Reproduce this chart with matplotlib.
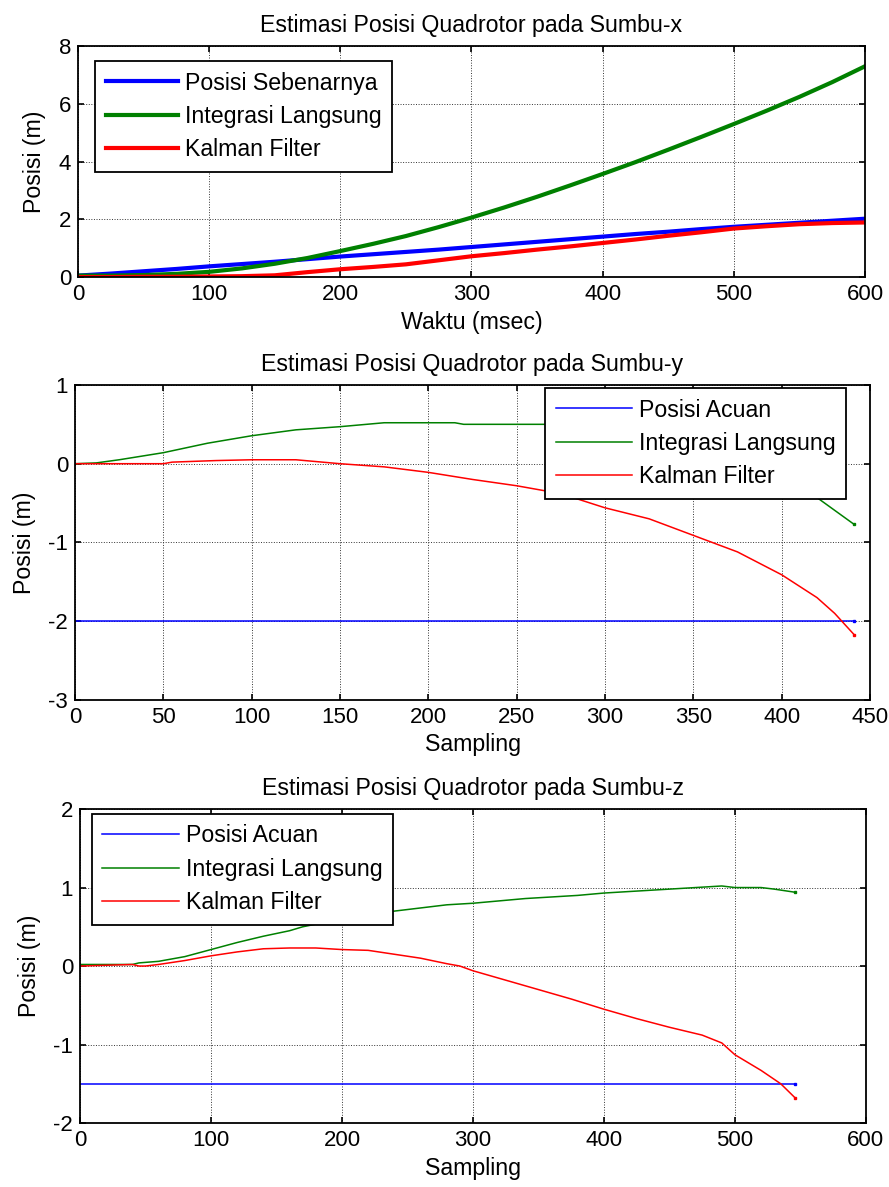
import matplotlib
matplotlib.use('Agg')
import matplotlib.pyplot as plt
import numpy as np

plt.rcParams['font.family'] = ['Liberation Sans', 'DejaVu Sans']
plt.rcParams['axes.unicode_minus'] = False

# --- sumbu-x (waktu msec) ---
tx = [0, 25, 50, 75, 100, 125, 150, 175, 200, 225, 250, 275, 300, 325, 350, 375, 400,
      425, 450, 475, 500, 525, 550, 575, 600]
x_true = [0.05, 0.12, 0.2, 0.28, 0.37, 0.45, 0.53, 0.62, 0.71, 0.79, 0.87, 0.95, 1.04,
          1.13, 1.22, 1.31, 1.4, 1.49, 1.57, 1.66, 1.74, 1.81, 1.88, 1.95, 2.02]
x_int = [0.05, 0.05, 0.07, 0.11, 0.18, 0.3, 0.46, 0.66, 0.9, 1.15, 1.42, 1.73, 2.06,
         2.41, 2.78, 3.17, 3.57, 3.98, 4.41, 4.85, 5.3, 5.76, 6.24, 6.75, 7.3]
x_kf = [0.0, 0.0, 0.01, 0.01, 0.02, 0.03, 0.06, 0.17, 0.27, 0.35, 0.44, 0.58, 0.72,
        0.83, 0.95, 1.06, 1.18, 1.3, 1.43, 1.55, 1.68, 1.76, 1.83, 1.87, 1.89]

# --- sumbu-y (sampling) ---
sy_int = [0, 12, 25, 50, 75, 100, 125, 150, 175, 200, 215, 220, 270, 300, 330, 360, 390, 420, 441]
y_int = [0.0, 0.01, 0.05, 0.14, 0.26, 0.355, 0.43, 0.47, 0.52, 0.52, 0.52, 0.5, 0.5,
         0.46, 0.36, 0.2, -0.05, -0.43, -0.77]
sy_kf = [0, 50, 55, 80, 100, 125, 140, 150, 175, 200, 225, 250, 275, 300, 325, 350,
         375, 400, 420, 430, 441]
y_kf = [0.0, 0.0, 0.02, 0.04, 0.05, 0.05, 0.02, 0.0, -0.04, -0.11, -0.2, -0.28, -0.38,
        -0.56, -0.7, -0.91, -1.12, -1.41, -1.7, -1.9, -2.17]
sy_ref = [0, 441]
y_ref = [-2.0, -2.0]

# --- sumbu-z (sampling) ---
sz_int = [0, 40, 45, 60, 80, 100, 120, 140, 160, 170, 200, 240, 260, 280, 300, 320, 340,
          360, 380, 400, 420, 450, 470, 490, 500, 520, 530, 546]
z_int = [0.02, 0.02, 0.04, 0.06, 0.12, 0.21, 0.3, 0.38, 0.45, 0.5, 0.6, 0.7, 0.74, 0.78,
         0.8, 0.83, 0.86, 0.88, 0.9, 0.93, 0.95, 0.98, 1.0, 1.02, 1.0, 1.0, 0.98, 0.94]
sz_kf = [0, 40, 45, 50, 60, 80, 100, 120, 140, 160, 180, 190, 200, 220, 240, 260, 280,
         290, 300, 325, 350, 375, 400, 425, 450, 475, 490, 500, 520, 535, 546]
z_kf = [0.0, 0.02, 0.0, 0.0, 0.02, 0.07, 0.13, 0.18, 0.22, 0.23, 0.23, 0.22, 0.21, 0.2,
        0.15, 0.1, 0.03, 0.0, -0.06, -0.18, -0.3, -0.42, -0.55, -0.67, -0.78, -0.88,
        -0.98, -1.13, -1.33, -1.5, -1.68]
sz_ref = [0, 546]
z_ref = [-1.5, -1.5]

labels_x = ['Posisi Sebenarnya', 'Integrasi Langsung', 'Kalman Filter']
labels_yz = ['Posisi Acuan', 'Integrasi Langsung', 'Kalman Filter']
BLUE, GREEN, RED = '#0000ff', '#008000', '#ff0000'
FS_TICK = 16
FS_TXT = 16.7


def style_ax(ax, xlim, ylim, xticks, yticks):
    ax.set_xlim(*xlim)
    ax.set_ylim(*ylim)
    ax.set_xticks(xticks)
    ax.set_yticks(yticks)
    ax.grid(True, color='#333333', linestyle=':', linewidth=0.7)
    ax.tick_params(direction='in', top=True, right=True, labelsize=FS_TICK,
                   length=4, width=1.2, pad=5)
    for s in ax.spines.values():
        s.set_linewidth(1.3)


def add_legend(ax, anchor, loc, hl):
    leg = ax.legend(loc=loc, fontsize=FS_TXT, fancybox=False, edgecolor='black',
                    framealpha=1, handlelength=hl, handletextpad=0.3, borderpad=0.45,
                    labelspacing=0.45, borderaxespad=0, bbox_to_anchor=anchor)
    leg.get_frame().set_linewidth(1.3)
    return leg


def thin_lines(ax, series):
    # garis tipis + titik kecil di ujung data (seperti keluaran MATLAB)
    for (xs, ys, c, lab) in series:
        ax.plot(xs, ys, color=c, lw=1.1, label=lab)
        ax.plot(xs[-1:], ys[-1:], color=c, marker='s', ms=1.6, ls='none')


fig = plt.figure(figsize=(8.89, 11.87), dpi=100)

# top
ax1 = fig.add_axes([0.0877, 0.7666, 0.8853, 0.1946])
ax1.plot(tx, x_true, color=BLUE, lw=3, label=labels_x[0])
ax1.plot(tx, x_int, color=GREEN, lw=3, label=labels_x[1])
ax1.plot(tx, x_kf, color=RED, lw=3, label=labels_x[2])
style_ax(ax1, (0, 600), (0, 8), np.arange(0, 601, 100), np.arange(0, 9, 2))
ax1.set_title('Estimasi Posisi Quadrotor pada Sumbu-x', fontsize=FS_TXT, pad=10)
ax1.set_xlabel('Waktu (msec)', fontsize=FS_TXT, labelpad=4)
ax1.set_ylabel('Posisi (m)', fontsize=FS_TXT, labelpad=9)
add_legend(ax1, (0.022, 0.935), 'upper left', 3.1)

# middle
ax2 = fig.add_axes([0.0844, 0.4103, 0.8942, 0.2654])
thin_lines(ax2, [(sy_ref, y_ref, BLUE, labels_yz[0]),
                 (sy_int, y_int, GREEN, labels_yz[1]),
                 (sy_kf, y_kf, RED, labels_yz[2])])
style_ax(ax2, (0, 450), (-3, 1), np.arange(0, 451, 50), np.arange(-3, 2, 1))
ax2.set_title('Estimasi Posisi Quadrotor pada Sumbu-y', fontsize=FS_TXT, pad=10)
ax2.set_xlabel('Sampling', fontsize=FS_TXT, labelpad=4)
ax2.set_ylabel('Posisi (m)', fontsize=FS_TXT, labelpad=9)
add_legend(ax2, (0.97, 0.99), 'upper right', 3.3)

# bottom
ax3 = fig.add_axes([0.09, 0.0539, 0.884, 0.2645])
thin_lines(ax3, [(sz_ref, z_ref, BLUE, labels_yz[0]),
                 (sz_int, z_int, GREEN, labels_yz[1]),
                 (sz_kf, z_kf, RED, labels_yz[2])])
style_ax(ax3, (0, 600), (-2, 2), np.arange(0, 601, 100), np.arange(-2, 3, 1))
ax3.set_title('Estimasi Posisi Quadrotor pada Sumbu-z', fontsize=FS_TXT, pad=10)
ax3.set_xlabel('Sampling', fontsize=FS_TXT, labelpad=4)
ax3.set_ylabel('Posisi (m)', fontsize=FS_TXT, labelpad=9)
add_legend(ax3, (0.015, 0.985), 'upper left', 3.3)

fig.savefig('out.png', dpi=100)
